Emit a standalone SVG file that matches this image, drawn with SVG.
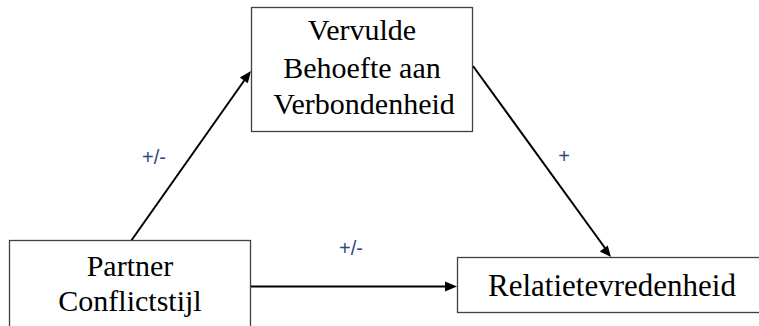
<svg xmlns="http://www.w3.org/2000/svg" width="759" height="326" viewBox="0 0 759 326">
<style>
.box{fill:#fff;stroke:#404040;stroke-width:1.3}
.c{stroke:#000;stroke-width:2;fill:none}
</style>
<rect width="759" height="326" fill="#fff"/>
<g id="connectors">
<line class="c" x1="131" y1="241" x2="246" y2="78"/>
<path d="M251,71 l-3.2,12.2 l-8,-5.7 z" fill="#000"/>
<line class="c" x1="473" y1="66" x2="605" y2="248"/>
<path d="M611,257 l-11.3,-5.6 l8,-5.8 z" fill="#000"/>
<line class="c" x1="251" y1="286.5" x2="446" y2="286.5"/>
<path d="M457,286.5 l-12,-5 l0,10 z" fill="#000"/>
</g>
<g id="n-top" font-family="'Liberation Serif', 'Times New Roman', serif" font-size="30" text-anchor="middle" fill="#000">
<rect class="box" x="251.5" y="7.5" width="221" height="124"/>
<text x="362" y="40">Vervulde</text>
<text x="362" y="78">Behoefte aan</text>
<text x="364" y="114">Verbondenheid</text>
</g>
<g id="n-left" font-family="'Liberation Serif', 'Times New Roman', serif" font-size="30" text-anchor="middle" fill="#000">
<rect class="box" x="9.5" y="240.5" width="241" height="100"/>
<text x="130" y="276">Partner</text>
<text x="130" y="311">Conflictstijl</text>
</g>
<g id="n-right" font-family="'Liberation Serif', 'Times New Roman', serif" font-size="31" text-anchor="middle" fill="#000">
<rect class="box" x="457.5" y="257.5" width="310" height="55"/>
<text x="612" y="296">Relatietevredenheid</text>
</g>
<g id="labels" font-family="'Liberation Sans', Arial, sans-serif" font-size="20" text-anchor="middle" fill="#2e4a7a">
<text x="154" y="164">+/-</text>
<text x="564" y="163">+</text>
<text x="351" y="255">+/-</text>
</g>
</svg>
